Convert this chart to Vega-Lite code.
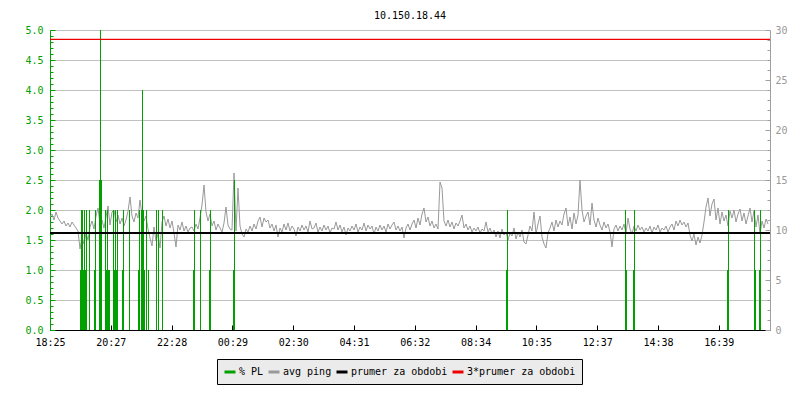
{
"$schema":"https://vega.github.io/schema/vega-lite/v6.json",
"width":720,"height":300,
"autosize":"none",
"padding":{"left":50,"top":30,"right":30,"bottom":70},
"background":"white",
"title":{"text":"10.150.18.44","font":"DejaVu Sans Mono","fontSize":10,"fontWeight":"normal","color":"#000000","anchor":"middle","offset":4},
"config":{"view":{"stroke":null},"font":"DejaVu Sans Mono"},
"datasets":{
"ping":[
{"t":0,"ping":11.3},{"t":4,"ping":11.6},{"t":8,"ping":11.0},{"t":12,"ping":11.8},{"t":16,"ping":11.2},{"t":20,"ping":10.9},{"t":24,"ping":10.6},{"t":28,"ping":10.9},{"t":32,"ping":10.4},{"t":36,"ping":10.7},{"t":40,"ping":10.3},{"t":44,"ping":10.8},{"t":48,"ping":10.5},{"t":52,"ping":10.2},{"t":56,"ping":9.9},{"t":60,"ping":8.1},{"t":64,"ping":9.3},{"t":68,"ping":8.6},{"t":72,"ping":9.7},{"t":76,"ping":9.0},
{"t":80,"ping":10.3},{"t":84,"ping":10.9},{"t":88,"ping":10.1},{"t":92,"ping":11.4},{"t":96,"ping":12.2},{"t":100,"ping":10.6},{"t":104,"ping":11.0},{"t":108,"ping":10.2},{"t":112,"ping":11.3},{"t":116,"ping":12.4},{"t":120,"ping":10.5},{"t":124,"ping":11.8},{"t":128,"ping":12.0},{"t":132,"ping":10.8},{"t":136,"ping":11.5},{"t":140,"ping":10.6},{"t":144,"ping":11.2},{"t":148,"ping":10.4},
{"t":152,"ping":11.0},{"t":156,"ping":11.9},{"t":160,"ping":13.3},{"t":164,"ping":11.4},{"t":168,"ping":10.8},{"t":172,"ping":11.7},{"t":176,"ping":11.2},{"t":180,"ping":13.0},{"t":184,"ping":11.5},{"t":188,"ping":10.9},{"t":192,"ping":11.4},{"t":196,"ping":10.1},{"t":200,"ping":9.2},{"t":204,"ping":8.4},{"t":208,"ping":10.3},{"t":212,"ping":8.9},{"t":216,"ping":9.6},{"t":220,"ping":8.2},
{"t":224,"ping":10.8},{"t":228,"ping":11.4},{"t":232,"ping":10.4},{"t":236,"ping":11.1},{"t":240,"ping":10.2},{"t":244,"ping":10.9},{"t":248,"ping":9.7},{"t":252,"ping":8.3},{"t":256,"ping":10.5},{"t":260,"ping":10.0},{"t":264,"ping":10.8},{"t":268,"ping":9.9},{"t":272,"ping":10.4},{"t":276,"ping":9.8},{"t":280,"ping":10.2},
{"t":284,"ping":10.3},{"t":288,"ping":9.9},{"t":292,"ping":10.6},{"t":296,"ping":10.1},{"t":300,"ping":11.2},{"t":304,"ping":12.5},{"t":308,"ping":14.5},{"t":312,"ping":11.8},{"t":316,"ping":10.9},{"t":320,"ping":11.6},{"t":324,"ping":10.4},{"t":328,"ping":10.9},{"t":332,"ping":10.0},{"t":336,"ping":10.6},{"t":340,"ping":10.2},{"t":344,"ping":9.8},{"t":348,"ping":10.7},{"t":352,"ping":12.3},{"t":356,"ping":10.5},{"t":360,"ping":10.1},
{"t":364,"ping":10.0},{"t":368,"ping":15.7},{"t":372,"ping":9.9},{"t":376,"ping":14.2},{"t":380,"ping":10.4},
{"t":384,"ping":9.6},{"t":388,"ping":9.3},{"t":392,"ping":10.1},{"t":396,"ping":9.8},{"t":400,"ping":10.4},{"t":404,"ping":9.9},{"t":408,"ping":10.6},{"t":412,"ping":10.1},{"t":416,"ping":10.9},{"t":420,"ping":11.3},{"t":424,"ping":10.3},{"t":428,"ping":11.2},{"t":432,"ping":10.8},{"t":436,"ping":11.0},{"t":440,"ping":10.2},{"t":444,"ping":10.6},{"t":448,"ping":9.9},{"t":452,"ping":10.5},{"t":456,"ping":9.3},{"t":460,"ping":10.2},
{"t":464,"ping":9.8},{"t":468,"ping":10.6},{"t":472,"ping":10.0},{"t":476,"ping":10.7},{"t":480,"ping":9.9},{"t":484,"ping":10.4},{"t":488,"ping":10.1},{"t":492,"ping":9.4},{"t":496,"ping":10.3},{"t":500,"ping":9.9},{"t":504,"ping":10.5},{"t":508,"ping":10.0},{"t":512,"ping":10.4},{"t":516,"ping":9.8},{"t":520,"ping":10.9},{"t":524,"ping":10.1},{"t":528,"ping":10.2},{"t":532,"ping":10.7},{"t":536,"ping":9.8},{"t":540,"ping":10.3},
{"t":544,"ping":9.9},{"t":548,"ping":10.5},{"t":552,"ping":10.0},{"t":556,"ping":10.4},{"t":560,"ping":9.7},{"t":564,"ping":10.2},{"t":568,"ping":10.1},{"t":572,"ping":10.8},{"t":576,"ping":10.0},{"t":580,"ping":10.5},{"t":584,"ping":9.8},{"t":588,"ping":10.3},{"t":592,"ping":9.5},{"t":596,"ping":10.2},{"t":600,"ping":9.9},{"t":604,"ping":10.4},{"t":608,"ping":10.0},{"t":612,"ping":10.6},{"t":616,"ping":9.8},{"t":620,"ping":10.3},
{"t":624,"ping":10.0},{"t":628,"ping":10.7},{"t":632,"ping":9.9},{"t":636,"ping":10.5},{"t":640,"ping":10.1},{"t":644,"ping":10.4},{"t":648,"ping":9.6},{"t":652,"ping":10.3},{"t":656,"ping":9.9},{"t":660,"ping":10.5},{"t":664,"ping":10.0},{"t":668,"ping":10.4},{"t":672,"ping":9.8},{"t":676,"ping":10.6},{"t":680,"ping":10.1},{"t":684,"ping":10.5},{"t":688,"ping":10.8},{"t":692,"ping":10.0},{"t":696,"ping":10.4},{"t":700,"ping":9.9},
{"t":704,"ping":10.3},{"t":708,"ping":9.2},{"t":712,"ping":10.2},{"t":716,"ping":10.6},{"t":720,"ping":10.0},
{"t":724,"ping":10.6},{"t":728,"ping":11.0},{"t":732,"ping":10.2},{"t":736,"ping":11.2},{"t":740,"ping":10.5},{"t":744,"ping":11.6},{"t":748,"ping":12.2},{"t":752,"ping":10.8},{"t":756,"ping":11.3},{"t":760,"ping":10.4},{"t":764,"ping":10.9},{"t":768,"ping":10.2},{"t":772,"ping":10.6},{"t":776,"ping":10.1},{"t":780,"ping":14.8},{"t":784,"ping":14.2},{"t":788,"ping":10.9},{"t":792,"ping":10.4},{"t":796,"ping":11.0},{"t":800,"ping":10.3},
{"t":804,"ping":10.8},{"t":808,"ping":10.1},{"t":812,"ping":10.7},{"t":816,"ping":10.4},{"t":820,"ping":10.9},{"t":824,"ping":11.5},{"t":828,"ping":10.2},{"t":832,"ping":10.6},{"t":836,"ping":10.0},{"t":840,"ping":10.4},{"t":844,"ping":9.8},{"t":848,"ping":10.2},{"t":852,"ping":9.9},{"t":856,"ping":10.3},{"t":860,"ping":9.7},{"t":864,"ping":10.1},{"t":868,"ping":9.9},{"t":872,"ping":10.8},{"t":876,"ping":9.8},{"t":880,"ping":10.2},
{"t":884,"ping":9.6},{"t":888,"ping":10.0},{"t":892,"ping":9.3},{"t":896,"ping":9.9},{"t":900,"ping":9.2},{"t":904,"ping":10.1},{"t":908,"ping":9.5},{"t":912,"ping":9.8},{"t":916,"ping":9.0},{"t":920,"ping":9.7},{"t":924,"ping":9.4},{"t":928,"ping":10.2},{"t":932,"ping":9.1},{"t":936,"ping":9.8},{"t":940,"ping":9.3},{"t":944,"ping":10.0},{"t":948,"ping":8.8},{"t":952,"ping":8.6},{"t":956,"ping":9.5},{"t":960,"ping":10.4},
{"t":964,"ping":9.9},{"t":968,"ping":11.8},{"t":972,"ping":9.6},{"t":976,"ping":10.6},{"t":980,"ping":11.4},{"t":984,"ping":9.3},{"t":988,"ping":8.6},{"t":992,"ping":8.2},{"t":996,"ping":9.7},{"t":1000,"ping":10.2},{"t":1004,"ping":10.8},{"t":1008,"ping":9.9},{"t":1012,"ping":11.0},{"t":1016,"ping":10.3},{"t":1020,"ping":10.9},{"t":1024,"ping":10.5},{"t":1028,"ping":11.6},{"t":1032,"ping":12.2},{"t":1036,"ping":10.4},{"t":1040,"ping":11.3},
{"t":1044,"ping":10.1},{"t":1048,"ping":11.7},{"t":1052,"ping":10.6},{"t":1056,"ping":11.5},{"t":1060,"ping":15.0},{"t":1064,"ping":12.0},{"t":1068,"ping":10.8},{"t":1072,"ping":11.4},{"t":1076,"ping":11.8},{"t":1080,"ping":10.5},
{"t":1084,"ping":12.7},{"t":1088,"ping":11.0},{"t":1092,"ping":10.3},{"t":1096,"ping":11.2},{"t":1100,"ping":10.5},{"t":1104,"ping":10.0},{"t":1108,"ping":10.8},{"t":1112,"ping":10.2},{"t":1116,"ping":10.6},{"t":1120,"ping":9.8},{"t":1124,"ping":8.3},{"t":1128,"ping":10.1},{"t":1132,"ping":10.5},{"t":1136,"ping":9.9},{"t":1140,"ping":10.4},{"t":1144,"ping":10.0},{"t":1148,"ping":10.6},{"t":1152,"ping":9.7},{"t":1156,"ping":11.2},{"t":1160,"ping":10.1},
{"t":1164,"ping":9.6},{"t":1168,"ping":10.4},{"t":1172,"ping":9.9},{"t":1176,"ping":10.5},{"t":1180,"ping":10.0},{"t":1184,"ping":10.3},{"t":1188,"ping":9.8},{"t":1192,"ping":10.2},{"t":1196,"ping":9.9},{"t":1200,"ping":10.4},{"t":1204,"ping":9.7},{"t":1208,"ping":10.3},{"t":1212,"ping":10.0},{"t":1216,"ping":10.5},{"t":1220,"ping":9.8},{"t":1224,"ping":10.2},{"t":1228,"ping":10.0},{"t":1232,"ping":10.4},{"t":1236,"ping":9.8},{"t":1240,"ping":10.3},
{"t":1244,"ping":10.6},{"t":1248,"ping":10.0},{"t":1252,"ping":10.9},{"t":1256,"ping":10.4},{"t":1260,"ping":11.0},{"t":1264,"ping":10.5},{"t":1268,"ping":10.8},{"t":1272,"ping":10.3},{"t":1276,"ping":10.7},{"t":1280,"ping":9.5},{"t":1284,"ping":8.9},{"t":1288,"ping":9.6},{"t":1292,"ping":8.5},{"t":1296,"ping":9.3},{"t":1300,"ping":8.7},{"t":1304,"ping":9.5},{"t":1308,"ping":10.8},{"t":1312,"ping":12.3},{"t":1316,"ping":13.2},{"t":1320,"ping":11.4},
{"t":1324,"ping":12.6},{"t":1328,"ping":13.1},{"t":1332,"ping":11.0},{"t":1336,"ping":12.2},{"t":1340,"ping":10.6},{"t":1344,"ping":11.8},{"t":1348,"ping":10.9},{"t":1352,"ping":11.5},{"t":1356,"ping":10.4},{"t":1360,"ping":11.9},{"t":1364,"ping":11.2},{"t":1368,"ping":12.0},{"t":1372,"ping":10.8},{"t":1376,"ping":11.6},{"t":1380,"ping":12.1},{"t":1384,"ping":10.9},{"t":1388,"ping":11.7},{"t":1392,"ping":10.6},{"t":1396,"ping":11.4},{"t":1400,"ping":12.2},
{"t":1404,"ping":10.8},{"t":1408,"ping":11.9},{"t":1412,"ping":10.3},{"t":1416,"ping":11.5},{"t":1420,"ping":9.6},{"t":1424,"ping":10.9},{"t":1428,"ping":10.2},{"t":1432,"ping":11.1},{"t":1436,"ping":10.6}
],
"pl":[
{"t":61,"pl":1},{"t":63,"pl":2},{"t":65,"pl":2},{"t":67,"pl":1},{"t":69,"pl":2},{"t":71,"pl":1},{"t":73,"pl":2},
{"t":79,"pl":2},{"t":89,"pl":1},{"t":91,"pl":2},
{"t":99,"pl":2.5},{"t":101,"pl":5},{"t":103,"pl":2.5},
{"t":111,"pl":2},{"t":113,"pl":1},{"t":115,"pl":2},{"t":117,"pl":1},{"t":119,"pl":1},
{"t":127,"pl":2},{"t":129,"pl":1},{"t":131,"pl":2},{"t":133,"pl":1},{"t":135,"pl":2},
{"t":145,"pl":1},{"t":147,"pl":2},{"t":159,"pl":2},
{"t":177,"pl":1},{"t":179,"pl":2},
{"t":183,"pl":2},{"t":185,"pl":4},{"t":187,"pl":2},{"t":189,"pl":1},
{"t":193,"pl":2},{"t":197,"pl":1},{"t":213,"pl":2},{"t":217,"pl":2},{"t":225,"pl":2},
{"t":287,"pl":1},{"t":289,"pl":2},{"t":301,"pl":2},{"t":319,"pl":1},{"t":321,"pl":2},
{"t":367,"pl":1},{"t":369,"pl":2.5},
{"t":913,"pl":1},{"t":915,"pl":2},
{"t":1151,"pl":2},{"t":1153,"pl":1},{"t":1167,"pl":1},{"t":1169,"pl":2},
{"t":1355,"pl":1},{"t":1357,"pl":2},{"t":1409,"pl":2},{"t":1411,"pl":1},{"t":1419,"pl":1},{"t":1421,"pl":2}
],
"mean":[
{"series":"prumer za obdobi","v":9.69},
{"series":"3*prumer za obdobi","v":29.07}
]
},
"layer":[
{
"data":{"name":"ping"},
"mark":{"type":"line","strokeWidth":1,"interpolate":"linear"},
"encoding":{
"x":{"field":"t","type":"quantitative","scale":{"domain":[0,1440],"nice":false,"zero":false},
"axis":{"title":null,"values":[0,121.6,243.2,364.8,486.4,608,729.6,851.2,972.8,1094.4,1216,1337.6],
"labelExpr":"['18:25','20:27','22:28','00:29','02:30','04:31','06:32','08:34','10:35','12:37','14:38','16:39'][round(datum.value/121.6)]",
"tickSize":-5,"labelPadding":12,"domainColor":"#000000","tickColor":"#000000","labelColor":"#000000","grid":false,"labelFlush":false,"labelOverlap":false,"labelBound":false,"labelFont":"DejaVu Sans Mono","labelFontSize":10}},
"y":{"field":"ping","type":"quantitative","scale":{"domain":[0,30],"nice":false},
"axis":{"orient":"right","title":null,"values":[0,1,2,3,4,5,6,7,8,9,10,11,12,13,14,15,16,17,18,19,20,21,22,23,24,25,26,27,28,29,30],
"labelExpr":"datum.value % 5 === 0 ? format(datum.value,'d') : ''",
"tickSize":{"condition":{"test":"datum.value % 5 === 0","value":-5},"value":-3},
"grid":false,"domainColor":"#a0a0a0","tickColor":"#a0a0a0","labelColor":"#999999","labelPadding":10,"labelOverlap":false,"labelFont":"DejaVu Sans Mono","labelFontSize":10}},
"color":{"datum":"avg ping","type":"nominal","title":null,
"scale":{"domain":["% PL","avg ping","prumer za obdobi","3*prumer za obdobi"],"range":["#00a000","#999999","#000000","#ee0000"]},
"legend":{"title":null,"orient":"none","legendX":167,"legendY":329,"direction":"horizontal","gridAlign":"none","fillColor":"#ebebeb","strokeColor":"#000000","padding":6,"symbolType":"stroke","symbolSize":121,"symbolStrokeWidth":3,"labelFont":"DejaVu Sans Mono","labelFontSize":10,"labelColor":"#000000","labelOffset":2,"columnPadding":-2}}
}
},
{
"data":{"name":"pl"},
"mark":{"type":"rule","strokeWidth":1},
"encoding":{
"x":{"field":"t","type":"quantitative","scale":{"domain":[0,1440],"nice":false,"zero":false},
"axis":{"title":null,"values":[0,121.6,243.2,364.8,486.4,608,729.6,851.2,972.8,1094.4,1216,1337.6],
"labelExpr":"['18:25','20:27','22:28','00:29','02:30','04:31','06:32','08:34','10:35','12:37','14:38','16:39'][round(datum.value/121.6)]",
"tickSize":-5,"labelPadding":12,"domainColor":"#000000","tickColor":"#000000","labelColor":"#000000","grid":false,"labelFlush":false,"labelOverlap":false,"labelBound":false,"labelFont":"DejaVu Sans Mono","labelFontSize":10}},
"y":{"field":"pl","type":"quantitative","scale":{"domain":[0,5],"nice":false},
"axis":{"orient":"left","title":null,"values":[0,0.1,0.2,0.3,0.4,0.5,0.6,0.7,0.8,0.9,1,1.1,1.2,1.3,1.4,1.5,1.6,1.7,1.8,1.9,2,2.1,2.2,2.3,2.4,2.5,2.6,2.7,2.8,2.9,3,3.1,3.2,3.3,3.4,3.5,3.6,3.7,3.8,3.9,4,4.1,4.2,4.3,4.4,4.5,4.6,4.7,4.8,4.9,5],
"labelExpr":"abs(datum.value*2-round(datum.value*2))<0.001 ? format(datum.value,'.1f') : ''",
"tickSize":{"condition":{"test":"abs(datum.value*2-round(datum.value*2))<0.001","value":-5},"value":-3},
"grid":true,"gridColor":"#c0c0c0","gridOpacity":{"condition":{"test":"abs(datum.value*2-round(datum.value*2))<0.001","value":1},"value":0},
"domainColor":"#00a000","tickColor":"#00a000","labelColor":"#00a000","labelPadding":12,"labelOverlap":false,"labelFont":"DejaVu Sans Mono","labelFontSize":10}},
"y2":{"datum":0},
"color":{"datum":"% PL","type":"nominal","title":null}
}
},
{
"data":{"name":"mean"},
"mark":{"type":"rule"},
"encoding":{
"y":{"field":"v","type":"quantitative","scale":{"domain":[0,30],"nice":false},"axis":null},
"color":{"field":"series","type":"nominal","title":null},
"strokeWidth":{"condition":{"test":"datum.series === 'prumer za obdobi'","value":2},"value":1.2}
}
}
],
"resolve":{"scale":{"y":"independent"}}
}
